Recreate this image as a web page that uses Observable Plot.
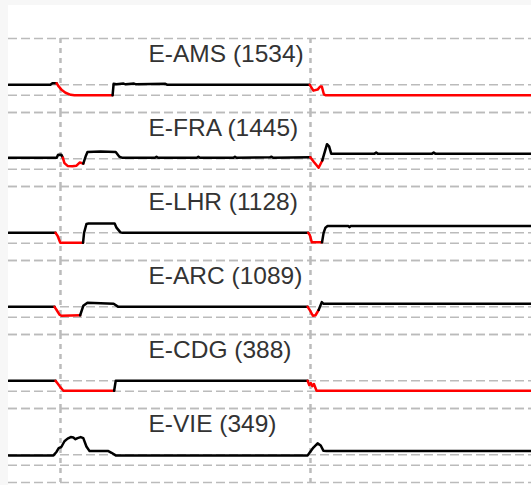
<!DOCTYPE html>
<html><head><meta charset="utf-8">
<script src="https://cdn.jsdelivr.net/npm/d3@7"></script>
<script src="https://cdn.jsdelivr.net/npm/@observablehq/plot@0.6"></script>
<style>
html,body{margin:0;padding:0;background:#f7f7f7;}
#chart{position:absolute;left:8px;top:5px;width:523px;height:480px;background:#fff;}
#chart svg{display:block;background:#fff;}
</style></head><body><div id="chart"></div>
<script>
// Facet categories and their counts
const airports = ["E-AMS", "E-FRA", "E-LHR", "E-ARC", "E-CDG", "E-VIE"];
const counts = [1534, 1445, 1128, 1089, 388, 349];
// Event markers (x positions in the time domain 0–100)
const events = [9.94, 57.74];
// Reference lines: baseline (1) and floor (0)
const refLines = [1, 0];

// Series: [time, normalized value]
const AMS = [[0,1.0],[8.0,1.0],[8.4,1.15],[9.2,1.15],[9.6,0.85],[10.2,0.5],[10.9,0.25],[11.9,0.05],[12.6,0],[19.9,0],[20.1,1.1],[20.6,1.05],[22,1.12],[22.4,1.05],[24,1.12],[24.4,1.05],[30,1.1],[30.4,1.0],[57.6,1.0],[58.3,0.45],[59.1,0.55],[59.6,0.85],[59.9,0.85],[60.3,0.1],[60.7,0],[100,0]];
const FRA = [[0,1.1],[9.2,1.1],[9.5,1.4],[10.1,1.4],[10.4,1.1],[10.7,0.6],[11.3,0.33],[12.2,0.3],[13.0,0.35],[13.6,0.65],[13.95,0.6],[14.3,0.55],[14.8,1.3],[15.1,1.65],[17.6,1.7],[20.5,1.65],[21.2,1.2],[21.8,1.1],[28,1.1],[28.3,1.2],[28.6,1.1],[36,1.1],[36.3,1.2],[36.6,1.1],[43,1.1],[43.3,1.2],[43.6,1.1],[50,1.15],[50.3,1.2],[50.6,1.1],[57.7,1.15],[58.4,0.7],[59.3,0.15],[60.0,0.85],[60.9,2.4],[61.3,2.2],[61.7,1.5],[70,1.5],[70.3,1.6],[70.6,1.5],[81,1.5],[81.3,1.6],[81.6,1.5],[100,1.5]];
const LHR = [[0,1.0],[9.0,1.0],[9.4,0.7],[9.9,0.05],[14.25,0.05],[14.45,1.0],[14.9,1.85],[15.3,1.9],[20.3,1.9],[20.65,1.5],[21.4,1.05],[21.8,1.0],[57.3,1.0],[57.6,0.8],[58.0,0.1],[59.95,0.1],[60.25,1.0],[60.6,1.5],[61.0,1.65],[65,1.65],[65.2,1.55],[65.4,1.65],[100,1.65]];
const ARC = [[0,1.0],[8.8,1.0],[9.2,0.7],[9.75,0.25],[10.1,0.15],[13.7,0.2],[14.3,1.1],[15.1,1.4],[17.6,1.35],[20.1,1.3],[21.0,1.0],[57.2,1.0],[57.6,0.7],[58.2,0.15],[58.7,0.2],[59.3,0.7],[59.9,1.45],[60.2,1.3],[100,1.3]];
const CDG = [[0,1.0],[9.0,1.0],[9.4,0.75],[9.9,0.4],[10.5,0.05],[20.2,0.05],[20.5,1.0],[57.2,1.0],[57.5,0.6],[57.8,0.8],[58.1,0.5],[58.4,0.7],[58.9,0.05],[100,0.05]];
const VIE = [[0,0.95],[8.6,0.95],[9.2,1.3],[9.6,1.65],[10.1,1.75],[10.7,2.3],[11.3,2.55],[11.9,2.7],[12.4,2.65],[12.8,2.5],[13.2,2.6],[13.8,2.7],[14.3,2.6],[14.9,1.8],[15.5,1.36],[19.1,1.36],[19.7,1.2],[20.5,0.95],[57.2,0.95],[57.7,1.3],[58.3,1.7],[59.1,2.1],[59.7,1.9],[60.2,1.4],[60.8,1.36],[100,1.36]];

const seriesList = [AMS, FRA, LHR, ARC, CDG, VIE];
const threshold = 0.9;
const yDomain = [-1.64, 5.43];

const points = [];
airports.forEach((a, k) => {
  const s = seriesList[k];
  s.forEach(([x, v], i) => {
    const nv = i < s.length - 1 ? s[i + 1][1] : v;
    points.push({airport: a, count: counts[k], x, v, color: nv < threshold ? "#ff0000" : "#000000"});
  });
});

const chart = Plot.plot({
  width: 523, height: 480,
  marginTop: 32, marginBottom: 3, marginLeft: 0, marginRight: 0,
  facet: {data: points, y: "airport"},
  fy: {domain: airports, padding: 0, axis: null, label: null},
  x: {domain: [0, 100], axis: null},
  y: {domain: yDomain, axis: null},
  color: {type: "identity"},
  marks: [
    Plot.ruleY([yDomain[1], ...refLines, yDomain[0]], {stroke: "#bbb", strokeWidth: 1.5, strokeDasharray: "9,4"}),
    Plot.ruleX(events, {stroke: "#bbb", strokeWidth: 2.5, strokeDasharray: "5,5"}),
    Plot.line(points, {x: "x", y: "v", z: "airport", stroke: "color", strokeWidth: 2.5, strokeLinejoin: "round"}),
    Plot.text(points, Plot.selectFirst({
      z: "airport",
      text: d => `${d.airport} (${d.count})`,
      frameAnchor: "top-left", dx: 140, dy: 23.5,
      textAnchor: "start", lineAnchor: "bottom",
      fontSize: 24.5, fill: "#333", fontFamily: "Liberation Sans, Arial, Helvetica, sans-serif"
    }))
  ]
});
document.getElementById("chart").appendChild(chart);
</script>
</body></html>
